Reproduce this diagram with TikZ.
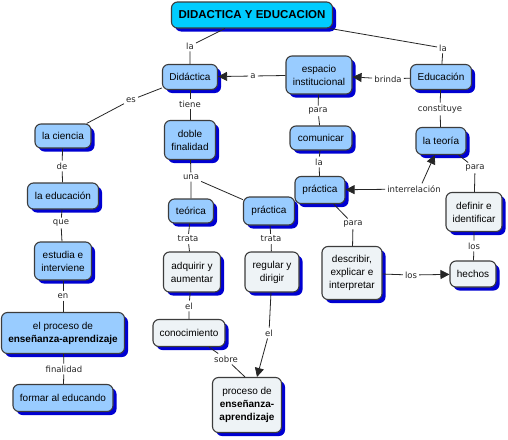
\documentclass[tikz,border=0pt]{standalone}
\usepackage{fontspec}
\setmainfont{Liberation Sans}
\newfontfamily\lnkfont{DejaVu Sans}
\usetikzlibrary{arrows.meta,shadows}
\definecolor{cfill}{RGB}{153,204,255}
\definecolor{lfill}{RGB}{238,243,246}
\definecolor{tfill}{RGB}{0,204,255}
\definecolor{shd}{RGB}{0,0,210}
\definecolor{bord}{RGB}{60,60,60}
\tikzset{
 base/.style={draw=bord, line width=1.1pt, rounded corners=6pt, align=center,
   font=\fontsize{10}{13}\selectfont, inner sep=0pt,
   drop shadow={shadow xshift=3.5pt, shadow yshift=-3.5pt, fill=shd, opacity=1}},
 concept/.style={base, fill=cfill},
 light/.style={base, fill=lfill},
 ttl/.style={base, fill=tfill, font=\fontsize{11.5}{13}\selectfont\bfseries},
 lnk/.style={font=\lnkfont\fontsize{8.5}{10}\selectfont, inner sep=2pt, text=black!85},
 con/.style={line width=0.8pt, draw=black!85},
 arr/.style={con, -{Triangle[length=9pt,width=9pt]}},
}
\begin{document}
\begin{tikzpicture}[x=1pt,y=-1pt]
\useasboundingbox[fill=white] (0,0) rectangle (508,439);
% concepts
\node[ttl, minimum width=161pt, minimum height=26pt] (title) at (252,15) {DIDACTICA Y EDUCACION};
\node[concept, minimum width=55pt, minimum height=25pt] (did) at (190,77) {Didáctica};
\node[concept, minimum width=66pt, minimum height=38pt] (esp) at (319,75) {espacio\\institucional};
\node[concept, minimum width=61pt, minimum height=25pt] (edu) at (441,77) {Educación};
\node[concept, minimum width=56pt, minimum height=24pt] (cien) at (63,136) {la ciencia};
\node[concept, minimum width=51pt, minimum height=39pt] (doble) at (190,140) {doble\\finalidad};
\node[concept, minimum width=62pt, minimum height=24pt] (com) at (321,138) {comunicar};
\node[concept, minimum width=50pt, minimum height=27pt] (teo) at (441,141) {la teoría};
\node[concept, minimum width=71pt, minimum height=26pt] (educ) at (63,196) {la educación};
\node[concept, minimum width=45pt, minimum height=24pt] (teor) at (191,211) {teórica};
\node[concept, minimum width=51pt, minimum height=28pt] (prac) at (269,211) {práctica};
\node[concept, minimum width=50pt, minimum height=27pt] (pracu) at (320,190) {práctica};
\node[light, minimum width=56pt, minimum height=39pt] (def) at (474,212) {definir e\\identificar};
\node[concept, minimum width=57pt, minimum height=38pt] (est) at (63,261) {estudia e\\interviene};
\node[light, minimum width=57pt, minimum height=40pt] (adq) at (192,272) {adquirir y\\aumentar};
\node[light, minimum width=54pt, minimum height=40pt] (reg) at (272,272) {regular y\\dirigir};
\node[light, minimum width=60pt, minimum height=53pt] (desc) at (352,273) {describir,\\explicar e\\interpretar};
\node[light, minimum width=46pt, minimum height=26pt] (hech) at (473,274) {hechos};
\node[concept, minimum width=123pt, minimum height=41pt] (eproc) at (63,333) {el proceso de\\\textbf{enseñanza-aprendizaje}};
\node[light, minimum width=72pt, minimum height=27pt] (conoc) at (189,333) {conocimiento};
\node[concept, minimum width=100pt, minimum height=27pt] (form) at (63,398) {formar al educando};
\node[light, minimum width=69pt, minimum height=55pt] (proc) at (247,405) {proceso de\\\textbf{enseñanza-}\\\textbf{aprendizaje}};
% linking phrases
\node[lnk] (l1) at (190,46) {la};
\node[lnk] (l2) at (443,48) {la};
\node[lnk] (la) at (253,76) {a};
\node[lnk] (lbr) at (388,79) {brinda};
\node[lnk] (les) at (131,100) {es};
\node[lnk] (lti) at (190,104) {tiene};
\node[lnk] (lpa1) at (318,111) {para};
\node[lnk] (lcon) at (440,109) {constituye};
\node[lnk] (lde) at (62,166) {de};
\node[lnk] (luna) at (191,177) {una};
\node[lnk] (lla3) at (319,162) {la};
\node[lnk] (lint) at (414,189) {interrelación};
\node[lnk] (lpa2) at (475,168) {para};
\node[lnk] (lque) at (61,223) {que};
\node[lnk] (ltr1) at (188,239) {trata};
\node[lnk] (ltr2) at (271,239) {trata};
\node[lnk] (lpa3) at (353,224) {para};
\node[lnk] (llos1) at (474,246) {los};
\node[lnk] (llos2) at (411,275) {los};
\node[lnk] (len) at (63,296) {en};
\node[lnk] (lel1) at (189,306) {el};
\node[lnk] (lel2) at (269,333) {el};
\node[lnk] (lsob) at (226,359) {sobre};
\node[lnk] (lfin) at (64,369) {finalidad};
% connectors
\draw[con] (title) -- (l1) -- (did);
\draw[con] (title) -- (l2) -- (edu);
\draw[con] (esp) -- (la);
\draw[arr] (la) -- (did);
\draw[con] (edu) -- (lbr);
\draw[arr] (lbr) -- (esp);
\draw[con] (did) -- (les) -- (cien);
\draw[con] (did) -- (lti) -- (doble);
\draw[con] (esp) -- (lpa1) -- (com);
\draw[con] (edu) -- (lcon) -- (teo);
\draw[con] (cien) -- (lde) -- (educ);
\draw[con] (doble) -- (luna) -- (teor);
\draw[con] (luna) -- (prac);
\draw[con] (com) -- (lla3) -- (pracu);
\draw[arr] (lint) -- (pracu);
\draw[arr] ([xshift=8pt]lint.north) -- (teo);
\draw[con] (teo) -- (lpa2) -- (def);
\draw[con] (educ) -- (lque) -- (est);
\draw[con] (teor) -- (ltr1) -- (adq);
\draw[con] (prac) -- (ltr2) -- (reg);
\draw[con] (pracu) -- (lpa3) -- (desc);
\draw[con] (def) -- (llos1) -- (hech);
\draw[con] (desc) -- (llos2);
\draw[arr] (llos2) -- (hech);
\draw[con] (est) -- (len) -- (eproc);
\draw[con] (adq) -- (lel1) -- (conoc);
\draw[con] (reg) -- (lel2);
\draw[arr] (lel2) -- ([xshift=10pt]proc.north);
\draw[con] (conoc) -- (lsob) -- ([xshift=-2pt]proc.north);
\draw[con] (eproc) -- (lfin) -- (form);
\end{tikzpicture}
\end{document}
